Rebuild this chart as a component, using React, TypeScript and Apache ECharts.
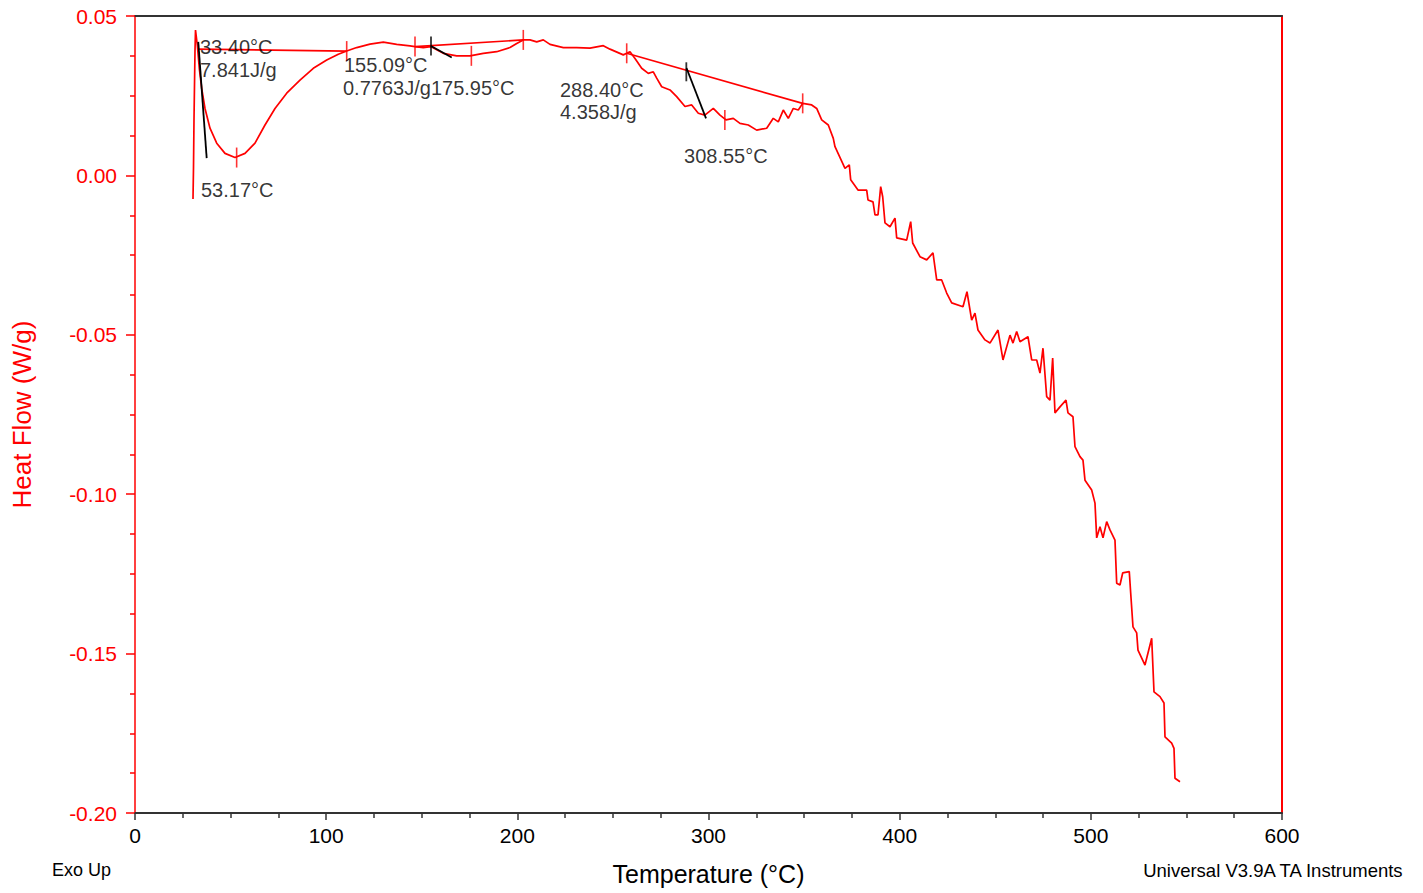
import React, { useEffect, useRef } from "react";
import * as echarts from "echarts";

// Main DSC curve
const temperature = [
  30.34, 30.6, 30.86, 31.39, 31.65, 32.59, 33.63, 34.89, 36.62, 39.23, 42.74, 47.08, 52.31, 57.54, 62.77, 68.0,
  73.23, 79.35, 86.31, 93.27, 100.28, 106.35, 110.74, 115.97, 122.93, 129.89, 136.89, 143.85, 146.47, 150.81,
  154.68, 161.27, 168.28, 175.24, 182.2, 189.2, 196.16, 199.67, 203.12, 206.62, 210.13, 213.58, 217.09, 224.05,
  231.05, 238.01, 244.97, 248.47, 255.43, 257.21, 258.93, 261.55, 265.05, 268.51, 271.12, 272.9, 275.52, 279.86,
  283.36, 287.7, 291.21, 294.66, 298.08, 302.51, 306.01, 309.15, 312.97, 316.47, 320.81, 325.21, 330.44, 333.89,
  336.51, 339.12, 341.74, 344.36, 346.97, 349.27, 353.98, 356.6, 359.21, 362.66, 365.28,
  366.17, 371.4, 373.65, 374.38, 378.2, 382.75, 383.43, 386.05, 387.09, 388.66, 390.07, 391.12, 392.32, 394.94,
  397.55, 398.44, 403.67, 405.77, 406.81, 410.63, 414.14, 417.43, 419.37, 421.98, 424.6, 427.21, 433.12, 435.21,
  437.67, 439.39, 440.96, 444.63, 447.24, 451.43, 454.04, 457.71, 459.28, 461.21, 462.94, 467.12, 469.06, 471.67,
  473.4, 474.97, 476.9, 478.63, 480.04, 481.24, 483.86, 487.0, 488.05, 490.66, 491.71, 494.32, 495.89, 496.94,
  500.44, 502.17, 503.06, 504.79, 506.36, 508.29, 510.02, 512.63, 513.52, 515.25, 516.66, 520.11, 520.85, 522.05,
  523.98, 524.66, 528.33, 531.83, 533.04, 536.17, 538.27, 538.79, 542.29, 543.5, 544.02, 546.64,
];
const heatFlow = [
  -0.0074, 0.0023, 0.0174, 0.0393, 0.0456, 0.0409, 0.0336, 0.0273, 0.021, 0.0148, 0.0101, 0.0069, 0.0056, 0.0069,
  0.0101, 0.0158, 0.021, 0.0258, 0.0299, 0.0336, 0.0362, 0.038, 0.039, 0.0401, 0.0412, 0.0418, 0.0411, 0.0406,
  0.0404, 0.0401, 0.0404, 0.0383, 0.0375, 0.0375, 0.0383, 0.0388, 0.0401, 0.0414, 0.0425, 0.0425, 0.0419, 0.0425,
  0.0411, 0.0401, 0.0401, 0.0399, 0.0407, 0.0396, 0.0378, 0.0383, 0.0388, 0.0367, 0.0336, 0.032, 0.0325, 0.0305,
  0.0278, 0.0268, 0.0247, 0.0216, 0.0221, 0.0195, 0.0189, 0.021, 0.0189, 0.0174, 0.0179, 0.0163, 0.0158, 0.0142,
  0.0148, 0.0179, 0.0168, 0.0205, 0.0179, 0.021, 0.0205, 0.0226, 0.0221, 0.021, 0.0174, 0.0158, 0.0116,
  0.009, 0.0022, 0.0033, -0.0014, -0.0046, -0.0046, -0.0077, -0.0083, -0.0124, -0.0124, -0.0035, -0.0067, -0.0149,
  -0.0161, -0.0134, -0.0196, -0.0203, -0.0145, -0.0212, -0.0255, -0.0265, -0.0243, -0.0328, -0.0328, -0.0369,
  -0.04, -0.0412, -0.0365, -0.0454, -0.0432, -0.0485, -0.0516, -0.0526, -0.0485, -0.0579, -0.0501, -0.0526,
  -0.049, -0.0522, -0.0506, -0.0579, -0.0579, -0.062, -0.0542, -0.0694, -0.0705, -0.0573, -0.0745, -0.0726,
  -0.0705, -0.0745, -0.0757, -0.0851, -0.0882, -0.0893, -0.0956, -0.0987, -0.1028, -0.1137, -0.1102, -0.1137,
  -0.1086, -0.1112, -0.1144, -0.1279, -0.1285, -0.1247, -0.1243, -0.131, -0.1416, -0.1435, -0.1489, -0.1536,
  -0.1452, -0.162, -0.1635, -0.1655, -0.1761, -0.1781, -0.1797, -0.1891, -0.1902,
];

// Integration baselines (red straight lines)
const baselines = [
  [[32.5, 0.0396], [110.74, 0.039]],
  [[146.47, 0.0404], [203.12, 0.0425]],
  [[257.21, 0.0383], [349.27, 0.0226]],
];

// Red vertical markers on the curve
const markerPoints = [
  [53.17, 0.0056], [110.74, 0.039], [146.47, 0.0404], [175.95, 0.0375],
  [203.12, 0.0425], [257.21, 0.0383], [308.55, 0.0174], [349.27, 0.0226],
];

// Black onset construction lines
const onsetLines = [
  [[33.1, 0.0419], [37.5, 0.0054]],
  [[154.84, 0.0406], [165.7, 0.037]],
  [[288.49, 0.0337], [298.7, 0.0179]],
];
const onsetTicks = [[154.84, 0.0406], [288.4, 0.0325]];

// Annotation texts (anchored at their left-middle point)
const annotationText = [
  "33.40°C", "7.841J/g", "53.17°C", "155.09°C", "0.7763J/g", "175.95°C", "288.40°C", "4.358J/g", "308.55°C",
];
const annotationAt = [
  [34.0, 0.0403], [34.0, 0.0331], [34.5, -0.0046], [109.3, 0.0346], [108.8, 0.0274], [154.8, 0.0274],
  [222.3, 0.0268], [222.3, 0.0199], [287.2, 0.0061],
];

const xTicks = { min: 0, max: 600, interval: 100 };
const yTicks = { min: -0.2, max: 0.05, interval: 0.05 };

const FONT = "'Liberation Sans', Arial, sans-serif";
const RED = "#ff0000";
const DARK = "#333333";

export default function App() {
  const ref = useRef<HTMLDivElement>(null);
  useEffect(() => {
    if (!ref.current) return;
    const chart = echarts.init(ref.current, undefined, { renderer: "svg" });
    const curve = temperature.map((t, i) => [t, heatFlow[i]]);
    const series: any[] = [
      {
        type: "line",
        data: curve,
        showSymbol: false,
        lineStyle: { color: RED, width: 1.7 },
        itemStyle: { color: RED },
        z: 3,
      },
      ...baselines.map((seg) => ({
        type: "line",
        data: seg,
        showSymbol: false,
        lineStyle: { color: RED, width: 1.7 },
        z: 3,
      })),
      {
        type: "scatter",
        data: markerPoints,
        symbol: "rect",
        symbolSize: [1.6, 20],
        itemStyle: { color: RED },
        z: 4,
      },
      ...onsetLines.map((seg) => ({
        type: "line",
        data: seg,
        showSymbol: false,
        lineStyle: { color: "#000", width: 1.8 },
        z: 5,
      })),
      {
        type: "scatter",
        data: onsetTicks,
        symbol: "rect",
        symbolSize: [1.8, 19],
        itemStyle: { color: "#000" },
        z: 5,
      },
      {
        type: "scatter",
        data: annotationAt.map((p, i) => ({ value: p, name: annotationText[i] })),
        symbolSize: 0,
        z: 6,
        label: {
          show: true,
          position: "right",
          distance: 0,
          formatter: (p: any) => p.name,
          color: "#000",
          fontSize: 20,
          fontFamily: FONT,
        },
      },
    ];

    chart.setOption({
      animation: false,
      backgroundColor: "#fff",
      grid: { left: 135, right: 141, top: 16, bottom: 80, containLabel: false },
      xAxis: [
        {
          type: "value",
          min: xTicks.min,
          max: xTicks.max,
          interval: xTicks.interval,
          name: "Temperature (°C)",
          nameLocation: "middle",
          nameGap: 48,
          nameTextStyle: { color: "#000", fontSize: 25, fontFamily: FONT },
          axisLine: { show: true, onZero: false, lineStyle: { color: DARK, width: 2 } },
          axisTick: { show: true, inside: false, length: 7, lineStyle: { color: DARK, width: 1.5 } },
          minorTick: { show: true, splitNumber: 4, length: 5, lineStyle: { color: DARK, width: 1.5 } },
          axisLabel: { color: "#000", fontSize: 21, fontFamily: FONT, margin: 12 },
          splitLine: { show: false },
        },
        {
          type: "value",
          position: "top",
          min: xTicks.min,
          max: xTicks.max,
          axisLine: { show: true, onZero: false, lineStyle: { color: DARK, width: 2 } },
          axisTick: { show: false },
          axisLabel: { show: false },
          splitLine: { show: false },
        },
      ],
      yAxis: [
        {
          type: "value",
          min: yTicks.min,
          max: yTicks.max,
          interval: yTicks.interval,
          name: "Heat Flow (W/g)",
          nameLocation: "middle",
          nameGap: 100,
          nameTextStyle: { color: RED, fontSize: 26, fontFamily: FONT },
          axisLine: { show: true, onZero: false, lineStyle: { color: RED, width: 1.5 } },
          axisTick: { show: true, inside: false, length: 9, lineStyle: { color: RED, width: 1.5 } },
          minorTick: { show: true, splitNumber: 4, length: 5, lineStyle: { color: RED, width: 1.5 } },
          axisLabel: {
            color: RED,
            fontSize: 21,
            fontFamily: FONT,
            margin: 18,
            formatter: (v: number) => v.toFixed(2),
          },
          splitLine: { show: false },
        },
        {
          type: "value",
          position: "right",
          min: yTicks.min,
          max: yTicks.max,
          axisLine: { show: true, onZero: false, lineStyle: { color: RED, width: 2 } },
          axisTick: { show: false },
          axisLabel: { show: false },
          splitLine: { show: false },
        },
      ],
      graphic: [
        {
          type: "text",
          left: 52,
          top: 861,
          style: { text: "Exo Up", fill: "#000", fontSize: 18, fontFamily: FONT },
        },
        {
          type: "text",
          right: 18,
          top: 861,
          style: { text: "Universal V3.9A TA Instruments", fill: "#000", fontSize: 18.5, fontFamily: FONT },
        },
      ],
      series,
    });
    return () => chart.dispose();
  }, []);
  return (
    <div
      ref={ref}
      style={{ position: "fixed", left: 0, top: 0, width: 1423, height: 893, background: "#fff" }}
    />
  );
}
